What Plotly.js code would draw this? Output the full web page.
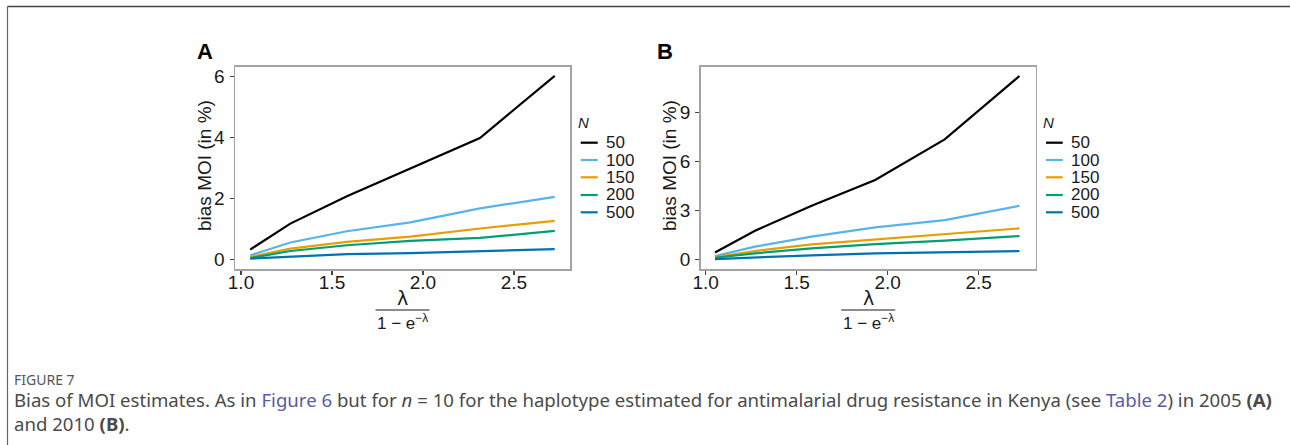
<!DOCTYPE html>
<html>
<head>
<meta charset="utf-8">
<script src="https://cdn.plot.ly/plotly-3.0.1.min.js"></script>
<style>
  html, body { margin: 0; padding: 0; background: #ffffff; }
  #chart { width: 1290px; height: 445px; }
</style>
</head>
<body>
<div id="chart"></div>
<script>
// lambda / (1 - exp(-lambda)) at each simulated lambda
const xRatio = [1.051, 1.271, 1.582, 1.931, 2.313, 2.724];

// sample sizes and line colours
const sampleSizes = ["50", "100", "150", "200", "500"];
const lineColors = ["#000000", "#56B4E9", "#E69F00", "#009E73", "#0072B2"];

// bias of MOI (in %), 2005 (A)
const biasA_50  = [0.33, 1.18, 2.08, 3.00, 3.99, 6.03];
const biasA_100 = [0.14, 0.56, 0.93, 1.22, 1.68, 2.06];
const biasA_150 = [0.09, 0.36, 0.58, 0.75, 1.02, 1.27];
const biasA_200 = [0.05, 0.28, 0.47, 0.61, 0.71, 0.94];
const biasA_500 = [0.03, 0.09, 0.18, 0.21, 0.27, 0.34];

// bias of MOI (in %), 2010 (B)
const biasB_50  = [0.42, 1.76, 3.29, 4.87, 7.36, 11.25];
const biasB_100 = [0.20, 0.78, 1.39, 1.96, 2.41, 3.29];
const biasB_150 = [0.14, 0.51, 0.92, 1.23, 1.53, 1.90];
const biasB_200 = [0.10, 0.37, 0.67, 0.94, 1.15, 1.43];
const biasB_500 = [0.02, 0.12, 0.25, 0.37, 0.45, 0.51];

const xTickVals = [1.0, 1.5, 2.0, 2.5];
const yTickValsA = [0, 2, 4, 6];
const yTickValsB = [0, 3, 6, 9];

const seriesA = [biasA_50, biasA_100, biasA_150, biasA_200, biasA_500];
const seriesB = [biasB_50, biasB_100, biasB_150, biasB_200, biasB_500];

const W = 1290, H = 445;
const px = v => v / W;          // pixel -> paper x
const py = v => 1 - v / H;      // pixel -> paper y

const traces = [];
seriesA.forEach((ys, i) => traces.push({
  x: xRatio, y: ys, type: "scatter", mode: "lines", name: sampleSizes[i],
  xaxis: "x", yaxis: "y", showlegend: false,
  line: { color: lineColors[i], width: 2.2 }
}));
seriesB.forEach((ys, i) => traces.push({
  x: xRatio, y: ys, type: "scatter", mode: "lines", name: sampleSizes[i],
  xaxis: "x2", yaxis: "y2", showlegend: false,
  line: { color: lineColors[i], width: 2.2 }
}));

const sans = "Liberation Sans, Arial, sans-serif";
const ink = "#1a1a1a";
const tickFont = { family: sans, size: 19, color: ink };
const frame = { showline: true, mirror: true, linecolor: "#a3a3a3", linewidth: 1.5,
  showgrid: false, zeroline: false, ticks: "outside", ticklen: 4, tickwidth: 1.2,
  tickcolor: "#444", tickfont: tickFont };

function xAxis(domain, range) {
  return Object.assign({}, frame, { domain: domain, range: range, tickmode: "array",
    tickvals: xTickVals, ticktext: xTickVals.map(v => v.toFixed(1)), ticklabelstandoff: -9 });
}
function yAxis(anchor, range, ticks) {
  return Object.assign({}, frame, { domain: [py(269.3), py(66.7)], range: range, anchor: anchor,
    tickmode: "array", tickvals: ticks, ticktext: ticks.map(String), ticklabelstandoff: 1 });
}

const annotations = [];
const shapes = [];

// panel letters
[["A", 205], ["B", 665]].forEach(([t, x]) => annotations.push({
  text: "<b>" + t + "</b>", xref: "paper", yref: "paper", x: px(x), y: py(51.5),
  showarrow: false, xanchor: "center", yanchor: "middle",
  font: { family: sans, size: 22, color: "#000" }
}));

// y-axis titles
[204, 669].forEach(cx => annotations.push({
  text: "bias MOI (in %)", xref: "paper", yref: "paper", x: px(cx), y: py(166),
  textangle: -90, showarrow: false, xanchor: "center", yanchor: "middle",
  font: { family: sans, size: 19, color: ink }
}));

// x-axis titles written as the fraction lambda / (1 - e^-lambda)
[402.5, 868.2].forEach(cx => {
  annotations.push({ text: "λ", xref: "paper", yref: "paper", x: px(cx), y: py(298),
    showarrow: false, xanchor: "center", yanchor: "middle",
    font: { family: "DejaVu Sans, sans-serif", size: 19, color: ink } });
  shapes.push({ type: "line", xref: "paper", yref: "paper",
    x0: px(cx - 27), x1: px(cx + 27), y0: py(310), y1: py(310),
    line: { color: ink, width: 1.2 } });
  annotations.push({ text: "1 − e<sup>−λ</sup>", xref: "paper", yref: "paper", x: px(cx), y: py(322),
    showarrow: false, xanchor: "center", yanchor: "middle",
    font: { family: sans, size: 17, color: ink } });
});

// legends for N
const keyRows = [142.7, 160, 177.3, 195, 212.3];
[[580.7, 597.7, 605, 583.5], [1046, 1062.7, 1070, 1048.5]].forEach(([k0, k1, tx, nx]) => {
  annotations.push({ text: "<i>N</i>", xref: "paper", yref: "paper", x: px(nx), y: py(122.5),
    showarrow: false, xanchor: "center", yanchor: "middle",
    font: { family: sans, size: 15, color: ink } });
  sampleSizes.forEach((lab, i) => {
    shapes.push({ type: "line", xref: "paper", yref: "paper",
      x0: px(k0), x1: px(k1), y0: py(keyRows[i]), y1: py(keyRows[i]),
      line: { color: lineColors[i], width: 2.2 } });
    annotations.push({ text: lab, xref: "paper", yref: "paper", x: px(tx), y: py(keyRows[i]),
      showarrow: false, xanchor: "left", yanchor: "middle", borderpad: 0,
      font: { family: sans, size: 17, color: ink } });
  });
});

// page frame
shapes.push({ type: "line", xref: "paper", yref: "paper", x0: px(7.5), x1: px(7.5), y0: py(6.5), y1: 0,
  line: { color: "#666", width: 1.2 } });
shapes.push({ type: "line", xref: "paper", yref: "paper", x0: px(7.5), x1: 1, y0: py(6.5), y1: py(6.5),
  line: { color: "#444", width: 1.5 } });

// caption
const capFont = { family: "Noto Sans, sans-serif", size: 18.6, color: "#4a4a4a" };
const link = "#5a5aa8";
annotations.push({ text: "FIGURE 7", xref: "paper", yref: "paper", x: px(12), y: py(379),
  showarrow: false, xanchor: "left", yanchor: "middle",
  font: { family: "Noto Sans, sans-serif", size: 14, color: "#555" } });
annotations.push({
  text: "Bias of MOI estimates. As in <span style=\"color:" + link + "\">Figure 6</span> but for <i>n</i> = 10 for the haplotype estimated for antimalarial drug resistance in Kenya (see <span style=\"color:" + link + "\">Table 2</span>) in 2005 <b>(A)</b>",
  xref: "paper", yref: "paper", x: px(12), y: py(399), showarrow: false,
  xanchor: "left", yanchor: "middle", font: capFont });
annotations.push({ text: "and 2010 <b>(B)</b>.", xref: "paper", yref: "paper", x: px(12), y: py(423),
  showarrow: false, xanchor: "left", yanchor: "middle", font: capFont });

const layout = {
  width: W, height: H,
  margin: { l: 0, r: 0, t: 0, b: 0 },
  paper_bgcolor: "#ffffff", plot_bgcolor: "#ffffff",
  showlegend: false,
  xaxis: xAxis([px(235), px(570)], [0.967, 2.808]),
  yaxis: yAxis("x", [-0.32, 6.33], yTickValsA),
  xaxis2: Object.assign(xAxis([px(700.7), px(1035.7)], [0.9725, 2.813]), { anchor: "y2" }),
  yaxis2: yAxis("x2", [-0.61, 11.82], yTickValsB),
  annotations: annotations,
  shapes: shapes
};

Plotly.newPlot("chart", traces, layout, { staticPlot: true, displayModeBar: false });
</script>
</body>
</html>
